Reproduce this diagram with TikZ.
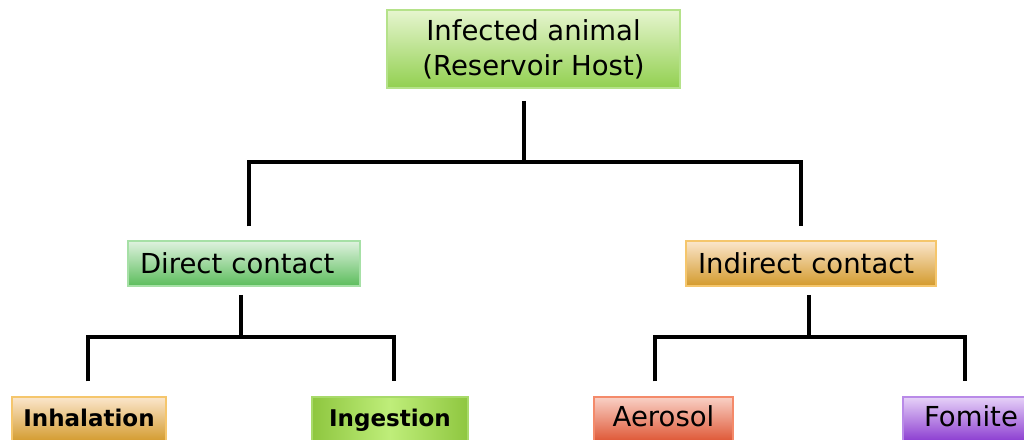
\documentclass[tikz,border=0pt]{standalone}
\usepackage{fontspec}
\setmainfont{DejaVu Sans}
\usepackage{tikz}
\usetikzlibrary{calc,positioning}
\definecolor{hostTop}{HTML}{E6F5CF}\definecolor{hostBot}{HTML}{92D050}\definecolor{hostLine}{HTML}{B5E28A}
\definecolor{dirTop}{HTML}{DFF2DF}\definecolor{dirBot}{HTML}{5CBD5C}\definecolor{dirLine}{HTML}{A6E0A6}
\definecolor{indTop}{HTML}{FBE6CC}\definecolor{indBot}{HTML}{D39A2C}\definecolor{indLine}{HTML}{F5C66C}
\definecolor{aerTop}{HTML}{F9D1C6}\definecolor{aerBot}{HTML}{DE5533}\definecolor{aerLine}{HTML}{F48A6A}
\definecolor{fomTop}{HTML}{E6D2F8}\definecolor{fomBot}{HTML}{8A3AD0}\definecolor{fomLine}{HTML}{B98AE8}
\definecolor{ingEdge}{HTML}{8EC63F}\definecolor{ingMid}{HTML}{BFEE7A}\definecolor{ingLine}{HTML}{A8DA6A}
\tikzset{box/.style={draw,line width=1.5pt,inner sep=0pt,minimum height=45pt,font=\fontsize{27.5}{35}\selectfont},
  leaf/.style={box,text height=18pt,text depth=5pt},
  boldleaf/.style={leaf,font=\fontsize{23}{30}\selectfont\bfseries},
  link/.style={line width=3.5pt,black,line join=miter}}
\begin{document}
\begin{tikzpicture}[x=1pt,y=-1pt]
\useasboundingbox (0,0) rectangle (1024,439);
% top level
\node[box,minimum width=293pt,minimum height=78pt,align=center,draw=hostLine,top color=hostTop,bottom color=hostBot] (host) at (533.5,49) {Infected animal\\(Reservoir Host)};
% second level
\node[box,minimum width=232pt,text width=208pt,align=left,draw=dirLine,top color=dirTop,bottom color=dirBot] (direct) at (244,263.5) {Direct contact};
\node[box,minimum width=250pt,text width=226pt,align=left,draw=indLine,top color=indTop,bottom color=indBot] (indirect) at (811,263.5) {Indirect contact};
% leaves
\node[boldleaf,minimum width=154pt,draw=indLine,top color=indTop,bottom color=indBot] (inhal) at (89,419.5) {Inhalation};
\node[boldleaf,minimum width=156pt,draw=ingLine,left color=ingEdge,right color=ingEdge,middle color=ingMid] (inges) at (390,419.5) {Ingestion};
\node[leaf,minimum width=139pt,draw=aerLine,top color=aerTop,bottom color=aerBot] (aero) at (663.5,419.5) {Aerosol};
\node[leaf,minimum width=136pt,draw=fomLine,top color=fomTop,bottom color=fomBot] (fomite) at (971,419.5) {Fomite};
% junctions
\coordinate (hubA) at (524,162);
\coordinate (barAL) at (249,162); \coordinate (barAR) at (801,162);
\coordinate (hubB) at (241,337);
\coordinate (barBL) at (88,337); \coordinate (barBR) at (394,337);
\coordinate (hubC) at (809,337);
\coordinate (barCL) at (655,337); \coordinate (barCR) at (965,337);
% connectors
\draw[link] ($(host.south -| hubA)+(0,12)$) -- (hubA);
\draw[link] ($(barAL |- direct.north)+(0,-14)$) -- (barAL) -- (barAR) -- ($(barAR |- indirect.north)+(0,-14)$);
\draw[link] ($(direct.south -| hubB)+(0,8)$) -- (hubB);
\draw[link] ($(barBL |- inhal.north)+(0,-15)$) -- (barBL) -- (barBR) -- ($(barBR |- inges.north)+(0,-15)$);
\draw[link] ($(indirect.south -| hubC)+(0,8)$) -- (hubC);
\draw[link] ($(barCL |- aero.north)+(0,-15)$) -- (barCL) -- (barCR) -- ($(barCR |- fomite.north)+(0,-15)$);
\end{tikzpicture}
\end{document}
